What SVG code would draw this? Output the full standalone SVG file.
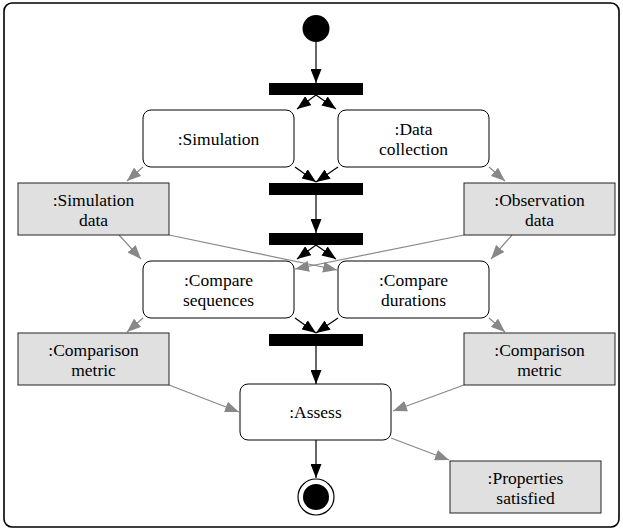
<svg xmlns="http://www.w3.org/2000/svg" width="623" height="531" viewBox="0 0 623 531">
<defs>
<marker id="ab" markerUnits="userSpaceOnUse" markerWidth="14" markerHeight="11" refX="14" refY="5.5" orient="auto"><path d="M0,0 L14,5.5 L0,11 z" fill="#000"/></marker>
<marker id="ag" markerUnits="userSpaceOnUse" markerWidth="14" markerHeight="11" refX="14" refY="5.5" orient="auto"><path d="M0,0 L14,5.5 L0,11 z" fill="#888"/></marker>
<style>
.act{fill:#fff;stroke:#000;stroke-width:1}
.obj{fill:#e0e0e0;stroke:#222;stroke-width:1}
.bar{fill:#000}
.t{font-family:'Liberation Serif','Times New Roman',serif;font-size:17.5px;text-anchor:middle;fill:#000}
.cb{stroke:#000;stroke-width:1.2;fill:none;marker-end:url(#ab)}
.cg{stroke:#888;stroke-width:1.2;fill:none;marker-end:url(#ag)}
</style>
</defs>
<rect x="4" y="3" width="615" height="524" rx="8" fill="#fff" stroke="#000" stroke-width="1.6"/>
<g id="connectors">
<line class="cb" x1="316" y1="42" x2="316" y2="83"/>
<line class="cb" x1="316" y1="95" x2="297" y2="109"/>
<line class="cb" x1="316" y1="95" x2="336" y2="109"/>
<line class="cb" x1="295" y1="167" x2="316" y2="182"/>
<line class="cb" x1="338" y1="167" x2="316" y2="182"/>
<line class="cb" x1="316" y1="195" x2="316" y2="233"/>
<line class="cb" x1="316" y1="245" x2="297" y2="259"/>
<line class="cb" x1="316" y1="245" x2="336" y2="259"/>
<line class="cb" x1="295" y1="318" x2="316" y2="333"/>
<line class="cb" x1="338" y1="318" x2="316" y2="333"/>
<line class="cb" x1="316" y1="346" x2="316" y2="384"/>
<line class="cb" x1="316" y1="440" x2="316" y2="478"/>
<line class="cg" x1="143" y1="167" x2="127" y2="181"/>
<line class="cg" x1="489" y1="167" x2="505" y2="181"/>
<line class="cg" x1="119" y1="235" x2="141" y2="259"/>
<line class="cg" x1="512" y1="235" x2="491" y2="259"/>
<line class="cg" x1="169" y1="235" x2="337" y2="270"/>
<line class="cg" x1="464" y1="235" x2="295" y2="269"/>
<line class="cg" x1="143" y1="318" x2="127" y2="332"/>
<line class="cg" x1="489" y1="318" x2="505" y2="332"/>
<line class="cg" x1="169" y1="385" x2="239" y2="412"/>
<line class="cg" x1="464" y1="385" x2="393" y2="411"/>
<line class="cg" x1="391" y1="438" x2="449" y2="460"/>
</g>
<g id="initial"><circle cx="316" cy="28.5" r="13.5" fill="#000"/></g>
<g id="fork1"><rect class="bar" x="269" y="83" width="94" height="12"/></g>
<g id="join1"><rect class="bar" x="269" y="183" width="94" height="12"/></g>
<g id="fork2"><rect class="bar" x="269" y="233" width="94" height="12"/></g>
<g id="join2"><rect class="bar" x="269" y="334" width="94" height="12"/></g>
<g id="simulation"><rect class="act" x="143" y="110" width="151" height="57" rx="8"/><text class="t" x="218.5" y="144.5">:Simulation</text></g>
<g id="datacollection"><rect class="act" x="338" y="110" width="151" height="57" rx="8"/><text class="t" x="413.5" y="135">:Data</text><text class="t" x="413.5" y="155">collection</text></g>
<g id="simdata"><rect class="obj" x="18" y="183" width="151" height="52"/><text class="t" x="93.5" y="205.5">:Simulation</text><text class="t" x="93.5" y="225.5">data</text></g>
<g id="obsdata"><rect class="obj" x="464" y="183" width="151" height="52"/><text class="t" x="539.5" y="205.5">:Observation</text><text class="t" x="539.5" y="225.5">data</text></g>
<g id="compseq"><rect class="act" x="143" y="261" width="151" height="57" rx="8"/><text class="t" x="218.5" y="286">:Compare</text><text class="t" x="218.5" y="306">sequences</text></g>
<g id="compdur"><rect class="act" x="338" y="261" width="151" height="57" rx="8"/><text class="t" x="413.5" y="286">:Compare</text><text class="t" x="413.5" y="306">durations</text></g>
<g id="metric1"><rect class="obj" x="18" y="333" width="151" height="52"/><text class="t" x="93.5" y="355.5">:Comparison</text><text class="t" x="93.5" y="375.5">metric</text></g>
<g id="metric2"><rect class="obj" x="464" y="333" width="151" height="52"/><text class="t" x="539.5" y="355.5">:Comparison</text><text class="t" x="539.5" y="375.5">metric</text></g>
<g id="assess"><rect class="act" x="240" y="384" width="151" height="56" rx="8"/><text class="t" x="315.5" y="418">:Assess</text></g>
<g id="properties"><rect class="obj" x="450" y="461" width="151" height="52"/><text class="t" x="525.5" y="483.5">:Properties</text><text class="t" x="525.5" y="503.5">satisfied</text></g>
<g id="final"><circle cx="316" cy="497" r="18" fill="#fff" stroke="#000" stroke-width="1.2"/><circle cx="316" cy="497" r="13" fill="#000"/></g>
</svg>
